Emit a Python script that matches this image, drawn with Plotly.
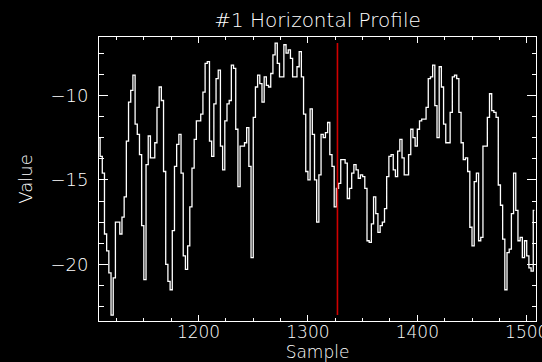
import plotly.graph_objects as go

# Sample positions (every 2nd sample) and profile values
sample_start = 1109
sample_step = 2
values = [
    -12.5, -13.6, -14.6, -18.2, -19.2, -20.5, -23.0, -20.8, -17.5, -17.5,
    -18.2, -17.2, -16.0, -12.7, -10.4, -9.7, -8.8, -11.7, -12.3, -13.5,
    -17.7, -20.9, -14.1, -12.4, -13.7, -13.7, -12.8, -10.7, -9.5, -10.3,
    -14.5, -20.0, -21.0, -21.5, -18.0, -14.2, -12.9, -12.3, -14.6, -19.5,
    -20.3, -18.9, -16.6, -14.3, -12.6, -11.5, -11.5, -11.1, -9.8, -8.1,
    -8.0, -12.7, -13.6, -10.5, -9.0, -8.5, -13.0, -14.4, -11.5, -10.5,
    -10.3, -8.2, -8.4, -12.0, -15.4, -13.0, -13.0, -12.8, -11.9, -14.2,
    -19.6, -11.3, -9.5, -8.8, -9.3, -10.4, -8.9, -9.4, -9.5, -8.7,
    -7.6, -6.9, -8.1, -8.9, -8.9, -7.0, -7.5, -7.3, -7.8, -8.9,
    -8.9, -8.3, -7.4, -8.9, -11.1, -14.5, -15.0, -10.8, -12.3, -15.0,
    -17.5, -14.7, -12.3, -12.5, -12.2, -11.6, -13.5, -14.2, -16.6, -15.5,
    -15.2, -13.8, -13.8, -14.0, -16.1, -15.5, -14.6, -14.1, -14.4, -14.9,
    -14.7, -14.8, -15.5, -18.6, -18.7, -17.6, -16.0, -17.0, -18.1, -17.7,
    -17.5, -16.7, -14.8, -13.6, -13.5, -14.4, -14.8, -13.3, -12.6, -13.7,
    -14.7, -14.7, -13.5, -12.0, -12.5, -13.0, -12.0, -11.5, -11.4, -11.4,
    -10.7, -9.0, -8.9, -8.2, -10.6, -12.5, -8.3, -9.5, -11.7, -12.8,
    -12.8, -11.0, -8.9, -8.8, -9.0, -11.0, -12.8, -13.8, -13.7, -14.5,
    -17.8, -18.9, -15.1, -14.6, -18.6, -18.4, -13.0, -13.0, -11.3, -9.9,
    -10.9, -11.0, -11.3, -15.3, -16.5, -18.5, -21.5, -19.3, -19.1, -17.0,
    -14.6, -16.8, -18.6, -18.4, -19.6, -18.6, -19.5, -20.2, -20.4, -16.8,
]
samples = [sample_start + sample_step * i for i in range(len(values))]

marker_sample = 1327
x_range = [1109, 1508.5]
y_range = [-23.35, -6.54]
x_tickvals = [1200, 1300, 1400, 1500]
y_tickvals = [-20, -15, -10]

title_text = "#1 Horizontal Profile"
x_title = "Sample"
y_title = "Value"

FONT = "DejaVu Sans"

fig = go.Figure()
fig.add_trace(go.Scatter(
    x=samples, y=values, mode="lines",
    line=dict(color="white", width=1.3, shape="hvh"),
    showlegend=False, hoverinfo="skip",
))
fig.add_trace(go.Scatter(
    x=[marker_sample, marker_sample], y=[min(values), max(values)],
    mode="lines", line=dict(color="#d00000", width=1.6),
    showlegend=False, hoverinfo="skip",
))

axis_common = dict(
    showgrid=False, zeroline=False, showline=True, linecolor="white",
    linewidth=1, mirror="ticks", ticks="inside", tickcolor="white",
    tickwidth=1, color="white",
)

fig.update_xaxes(
    range=x_range, tickvals=x_tickvals, ticklen=6,
    minor=dict(dtick=25, tick0=1200, ticklen=3, ticks="inside", tickcolor="white"),
    tickfont=dict(family=FONT, size=17, color="white", weight=200),
    title=dict(text=x_title, font=dict(family=FONT, size=17, color="white", weight=200), standoff=0),
    ticklabelstandoff=-4,
    ticklabeloverflow="allow",
    **axis_common,
)
fig.update_yaxes(
    range=y_range, tickvals=y_tickvals, ticklen=9,
    minor=dict(dtick=1.25, tick0=-10, ticklen=4.5, ticks="inside", tickcolor="white"),
    tickfont=dict(family=FONT, size=18, color="white", weight=200),
    title=dict(text=y_title, font=dict(family=FONT, size=18, color="white", weight=200), standoff=13),
    ticklabelstandoff=6,
    **axis_common,
)

fig.update_layout(
    width=542, height=362,
    margin=dict(l=99, r=6, t=37, b=41, autoexpand=False),
    paper_bgcolor="black", plot_bgcolor="black",
    title=dict(text=title_text, x=0.5, xref="paper", xanchor="center",
               y=1 - 20 / 362, yref="container", yanchor="middle",
               font=dict(family=FONT, size=20, color="white", weight=200)),
    font=dict(family=FONT, color="white"),
)

fig.write_html("out.html")
